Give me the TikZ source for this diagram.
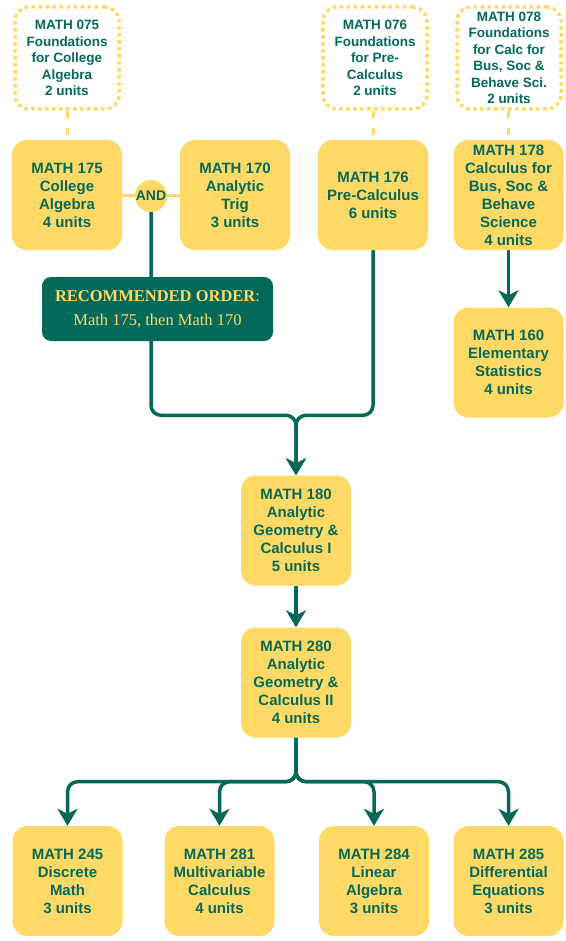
\documentclass[tikz,border=0pt]{standalone}
\usepackage{fontspec}
\setmainfont{Liberation Sans}
\newfontfamily\serifrec{Liberation Serif}
\usetikzlibrary{arrows.meta,backgrounds,calc}
\definecolor{cgold}{HTML}{FFD966}
\definecolor{cgreen}{HTML}{05695A}
\begin{document}
\begin{tikzpicture}[x=1pt,y=-1pt,
  course/.style={fill=cgold, rounded corners=15pt, minimum width=110pt, minimum height=110pt,
    inner sep=0pt, align=center, text=cgreen, font=\fontsize{15}{18}\selectfont\bfseries},
  fdn/.style={draw=cgold, line width=3.5pt, dash pattern=on 3.5pt off 3.5pt, fill=white,
    rounded corners=14pt, minimum width=104pt, minimum height=102pt, inner sep=0pt,
    align=center, text=cgreen, font=\fontsize{13.5}{16.5}\selectfont\bfseries},
  andnode/.style={circle, fill=cgold, minimum size=32pt, inner sep=0pt, text=cgreen,
    font=\fontsize{14}{16}\selectfont\bfseries},
  recbox/.style={fill=cgreen, rounded corners=9pt, minimum width=231pt, minimum height=64pt,
    inner sep=0pt, align=center, text=cgold, font=\serifrec\fontsize{16.5}{24}\selectfont},
  ydash/.style={draw=cgold, line width=3pt, dash pattern=on 7pt off 10pt},
  yline/.style={draw=cgold, line width=3pt},
  gline/.style={draw=cgreen, line width=3.5pt, rounded corners=10pt,
    -{Stealth[length=17pt,width=20pt,inset=5pt]}}
]
\useasboundingbox (0,0) rectangle (565,941);

% foundation courses
\node[fdn] (f075) at (67,58) {MATH 075\\Foundations\\for College\\Algebra\\2 units};
\node[fdn] (f076) at (375,58) {MATH 076\\Foundations\\for Pre-\\Calculus\\2 units};
\node[fdn] (f078) at (509,58) {MATH 078\\Foundations\\for Calc for\\Bus, Soc \&\\Behave Sci.\\2 units};

% second row
\node[course] (m175) at (67,195) {MATH 175\\College\\Algebra\\4 units};
\node[course] (m170) at (235,195) {MATH 170\\Analytic\\Trig\\3 units};
\node[course] (m176) at (373,195) {MATH 176\\Pre-Calculus\\6 units};
\node[course] (m178) at (508.5,195) {MATH 178\\Calculus for\\Bus, Soc \&\\Behave\\Science\\4 units};
\node[andnode] (and) at (151,196) {AND};

\node[course] (m160) at (508.5,362.5) {MATH 160\\Elementary\\Statistics\\4 units};

\node[recbox] (rec) at (157.5,309) {{\bfseries RECOMMENDED ORDER}:\\Math 175, then Math 170};

\node[course] (m180) at (296,530.5) {MATH 180\\Analytic\\Geometry \&\\Calculus I\\5 units};
\node[course] (m280) at (296,682.5) {MATH 280\\Analytic\\Geometry \&\\Calculus II\\4 units};

\node[course] (m245) at (67.5,881) {MATH 245\\Discrete\\Math\\3 units};
\node[course] (m281) at (219.5,881) {MATH 281\\Multivariable\\Calculus\\4 units};
\node[course] (m284) at (374,881) {MATH 284\\Linear\\Algebra\\3 units};
\node[course] (m285) at (508.5,881) {MATH 285\\Differential\\Equations\\3 units};

\coordinate (j1) at ($(m180.north)+(0,-60)$);
\coordinate (j2) at ($(m280.south)+(0,44)$);

\begin{scope}[on background layer]
\draw[ydash] (m175.north |- f075.south) -- (m175.north);
\draw[ydash] (m176.north |- f076.south) -- (m176.north);
\draw[ydash] (m178.north |- f078.south) -- (m178.north);
\draw[yline] (m175.east |- and) -- (and) -- (m170.west |- and);
\draw[gline] (and.south) |- (j1) -- (m180.north);
\draw[gline] (m176.south) |- (j1) -- (m180.north);
\draw[gline] (m180.south) -- (m280.north);
\draw[gline] (m178.south) -- (m160.north);
\draw[gline] (m280.south) -- (j2) -| (m245.north);
\draw[gline] (m280.south) -- (j2) -| (m281.north);
\draw[gline] (m280.south) -- (j2) -| (m284.north);
\draw[gline] (m280.south) -- (j2) -| (m285.north);
\end{scope}
\end{tikzpicture}
\end{document}
